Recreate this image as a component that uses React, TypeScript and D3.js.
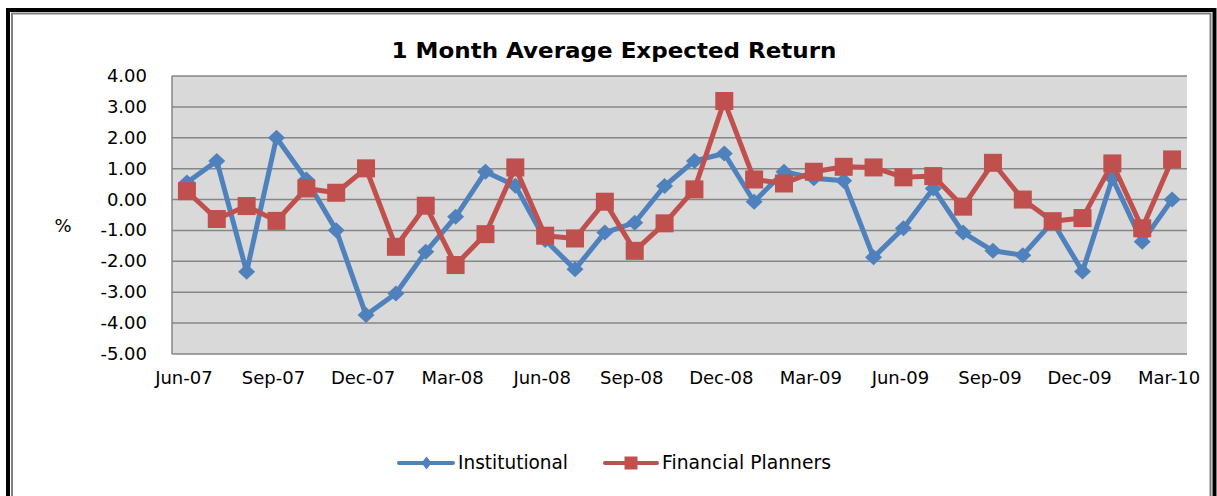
import { useEffect } from "react";
import * as d3 from "d3";

const months = [
  "Jun-07", "Jul-07", "Aug-07", "Sep-07", "Oct-07", "Nov-07", "Dec-07",
  "Jan-08", "Feb-08", "Mar-08", "Apr-08", "May-08", "Jun-08", "Jul-08", "Aug-08", "Sep-08", "Oct-08", "Nov-08", "Dec-08",
  "Jan-09", "Feb-09", "Mar-09", "Apr-09", "May-09", "Jun-09", "Jul-09", "Aug-09", "Sep-09", "Oct-09", "Nov-09", "Dec-09",
  "Jan-10", "Feb-10", "Mar-10",
];

const institutional = [
  0.55, 1.25, -2.34, 2.0, 0.65, -0.99, -3.74,
  -3.04, -1.69, -0.56, 0.9, 0.45, -1.31, -2.26, -1.07, -0.75, 0.44, 1.25, 1.49,
  -0.07, 0.9, 0.69, 0.61, -1.87, -0.93, 0.36, -1.07, -1.66, -1.8, -0.72, -2.33,
  0.69, -1.37, 0.0,
];

const planners = [
  0.27, -0.63, -0.21, -0.69, 0.36, 0.22, 1.01,
  -1.53, -0.2, -2.12, -1.12, 1.04, -1.17, -1.26, -0.07, -1.66, -0.77, 0.33, 3.19,
  0.65, 0.52, 0.9, 1.06, 1.04, 0.72, 0.76, -0.23, 1.19, 0.0, -0.7, -0.6,
  1.17, -0.93, 1.3,
];

const yTicks = [4, 3, 2, 1, 0, -1, -2, -3, -4, -5];
const xTickLabels = months.filter((_, i) => i % 3 === 0);

const BLUE = "#4F81BD";
const RED = "#C0504D";
const FONT = "'DejaVu Sans', sans-serif";

export default function App() {
  useEffect(() => {
    document.body.style.margin = "0";
  }, []);

  const width = 1217;
  const height = 496;
  const plot = { left: 172, right: 1187, top: 76, bottom: 354 };

  const x = d3.scaleBand<string>()
    .domain(months)
    .range([plot.left, plot.right]);
  const cx = (m: string) => (x(m) ?? 0) + x.bandwidth() / 2;

  const y = d3.scaleLinear()
    .domain([-5, 4])
    .range([plot.bottom, plot.top]);

  const line = d3.line<number>()
    .x((_, i) => cx(months[i]))
    .y(d => y(d));

  const diamond = (px: number, py: number, w: number, h: number) =>
    `M${px},${py - h / 2}L${px + w / 2},${py}L${px},${py + h / 2}L${px - w / 2},${py}Z`;

  return (
    <svg width={width} height={height} style={{ display: "block" }}>
      <rect x={0} y={0} width={width} height={height} fill="white" />
      {/* outer frame */}
      <rect x={8} y={10} width={1206.5} height={500} fill="white" stroke="#000" strokeWidth={4} />
      <rect x={12} y={13.5} width={1198.5} height={500} fill="none" stroke="#808080" strokeWidth={2} />

      <text x={614} y={58} textAnchor="middle" fontFamily={FONT} fontWeight="bold"
        fontSize={21} textLength={445} lengthAdjust="spacingAndGlyphs">
        1 Month Average Expected Return
      </text>

      {/* plot area */}
      <rect x={plot.left} y={plot.top} width={plot.right - plot.left} height={plot.bottom - plot.top} fill="#D9D9D9" />
      {yTicks.map(t => (
        <line key={t} x1={plot.left} x2={plot.right} y1={y(t)} y2={y(t)} stroke="#868686" strokeWidth={1.5} />
      ))}
      <line x1={plot.left} x2={plot.left} y1={plot.top} y2={plot.bottom} stroke="#868686" strokeWidth={1.5} />

      {yTicks.map(t => (
        <text key={t} x={147} y={y(t) + 6} textAnchor="end" fontFamily={FONT} fontSize={18} fill="#000">
          {t.toFixed(2)}
        </text>
      ))}
      <text x={63} y={232} textAnchor="middle" fontFamily={FONT} fontSize={18}>%</text>

      {xTickLabels.map(m => (
        <text key={m} x={cx(m) - 3} y={384} textAnchor="middle" fontFamily={FONT} fontSize={18}>
          {m}
        </text>
      ))}

      {/* Institutional */}
      <path d={line(institutional) ?? ""} fill="none" stroke={BLUE} strokeWidth={5} strokeLinejoin="round" />
      {institutional.map((v, i) => (
        <path key={i} d={diamond(cx(months[i]), y(v), 17, 16)} fill={BLUE} />
      ))}

      {/* Financial Planners */}
      <path d={line(planners) ?? ""} fill="none" stroke={RED} strokeWidth={5} strokeLinejoin="round" />
      {planners.map((v, i) => (
        <rect key={i} x={cx(months[i]) - 9} y={y(v) - 9} width={18} height={18} fill={RED} />
      ))}

      {/* legend */}
      <line x1={399} x2={453} y1={463} y2={463} stroke={BLUE} strokeWidth={4} strokeLinecap="round" />
      <path d={diamond(426.5, 463, 10, 13)} fill={BLUE} />
      <text x={458} y={469} fontFamily={FONT} fontSize={19} textLength={110} lengthAdjust="spacingAndGlyphs">
        Institutional
      </text>
      <line x1={605} x2={657} y1={463} y2={463} stroke={RED} strokeWidth={4} strokeLinecap="round" />
      <rect x={624.5} y={456.5} width={13} height={13} fill={RED} />
      <text x={662} y={469} fontFamily={FONT} fontSize={19} textLength={169} lengthAdjust="spacingAndGlyphs">
        Financial Planners
      </text>
    </svg>
  );
}
